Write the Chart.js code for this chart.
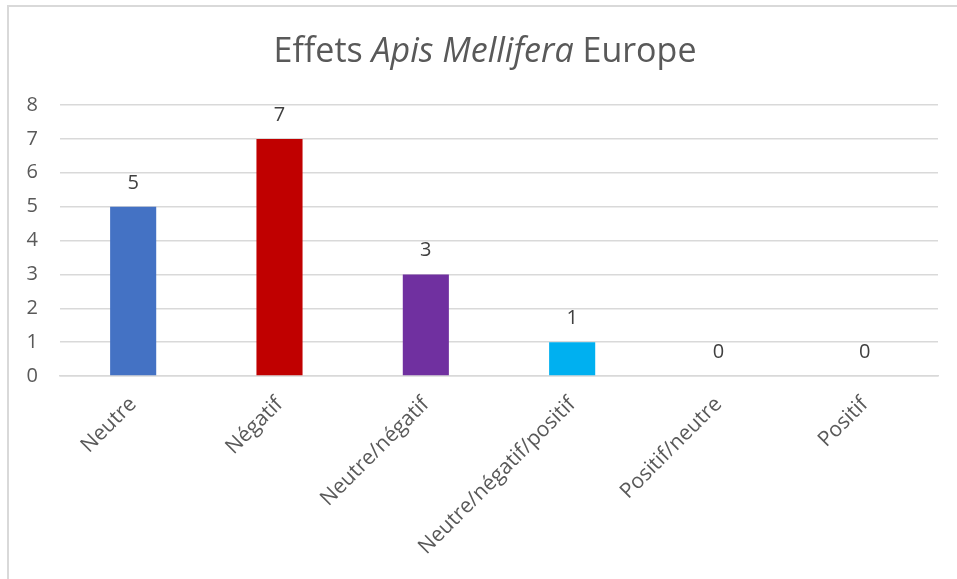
<!DOCTYPE html>
<html lang="fr">
  <head>
    <meta charset="UTF-8" />
    <title>Effets Apis Mellifera Europe</title>
    <style>
      body { margin: 0; background: #fff; }
      #frame {
        position: absolute; left: 7px; top: 5px; width: 960px; height: 580px;
        border-left: 2px solid #d9d9d9; border-top: 2px solid #d9d9d9;
      }
      #wrap { position: absolute; left: 0; top: 0; width: 957px; height: 579px; }
    </style>
  </head>
  <body>
    <div id="frame"></div>
    <div id="wrap"><canvas id="chart"></canvas></div>

    <script src="https://cdn.jsdelivr.net/npm/chart.js@4.4.0/dist/chart.umd.min.js"></script>
    <script>
      const categories = ["Neutre", "Négatif", "Neutre/négatif", "Neutre/négatif/positif", "Positif/neutre", "Positif"];
      const counts = [5, 7, 3, 1, 0, 0];
      const barColors = ["#4472c4", "#c00000", "#7030a0", "#00b0f0", "#a5a5a5", "#70ad47"];
      const yTicks = [0, 1, 2, 3, 4, 5, 6, 7, 8];

      const FONT = "'Open Sans', sans-serif";

      // title with the species name in italics
      const mixedTitle = {
        id: "mixedTitle",
        afterDraw(chart) {
          const ctx = chart.ctx;
          const parts = [
            { t: "Effets ", f: "normal 34px " + FONT },
            { t: "Apis Mellifera", f: "italic 34px " + FONT },
            { t: " Europe", f: "normal 34px " + FONT },
          ];
          let total = 0;
          parts.forEach((p) => { ctx.font = p.f; p.w = ctx.measureText(p.t).width; total += p.w; });
          let x = 485 - total / 2;
          ctx.save();
          ctx.fillStyle = "#595959";
          ctx.textBaseline = "middle";
          parts.forEach((p) => { ctx.font = p.f; ctx.fillText(p.t, x, 52); x += p.w; });
          ctx.restore();
        },
      };

      // value above each bar
      const valueLabels = {
        id: "valueLabels",
        afterDatasetsDraw(chart) {
          const ctx = chart.ctx;
          const meta = chart.getDatasetMeta(0);
          ctx.save();
          ctx.font = "20px " + FONT;
          ctx.fillStyle = "#404040";
          ctx.textAlign = "center";
          ctx.textBaseline = "alphabetic";
          meta.data.forEach((bar, i) => {
            ctx.fillText(String(counts[i]), bar.x, bar.y - 18);
          });
          ctx.restore();
        },
      };

      new Chart(document.getElementById("chart"), {
        type: "bar",
        data: {
          labels: categories,
          datasets: [{
            data: counts,
            backgroundColor: barColors,
            categoryPercentage: 1,
            barPercentage: 0.315,
          }],
        },
        options: {
          responsive: true,
          maintainAspectRatio: false,
          animation: false,
          layout: { padding: { top: 105, right: 19, left: 20, bottom: 0 } },
          plugins: { legend: { display: false }, tooltip: { enabled: false } },
          scales: {
            x: {
              grid: { display: false },
              border: { color: "#d9d9d9", width: 1.5 },
              ticks: {
                color: "#595959",
                font: { family: FONT, size: 21 },
                minRotation: 45,
                maxRotation: 45,
                padding: 8,
              },
              afterFit(scale) { scale.height = 203; },
            },
            y: {
              min: 0,
              max: 8,
              afterBuildTicks(scale) { scale.ticks = yTicks.map((v) => ({ value: v })); },
              grid: { color: "#d9d9d9", lineWidth: 1.5, drawTicks: false },
              border: { display: false },
              ticks: {
                color: "#595959",
                font: { family: FONT, size: 20 },
                padding: 22,
              },
              afterFit(scale) { scale.width = 40; },
            },
          },
        },
        plugins: [mixedTitle, valueLabels],
      });
    </script>
  </body>
</html>
